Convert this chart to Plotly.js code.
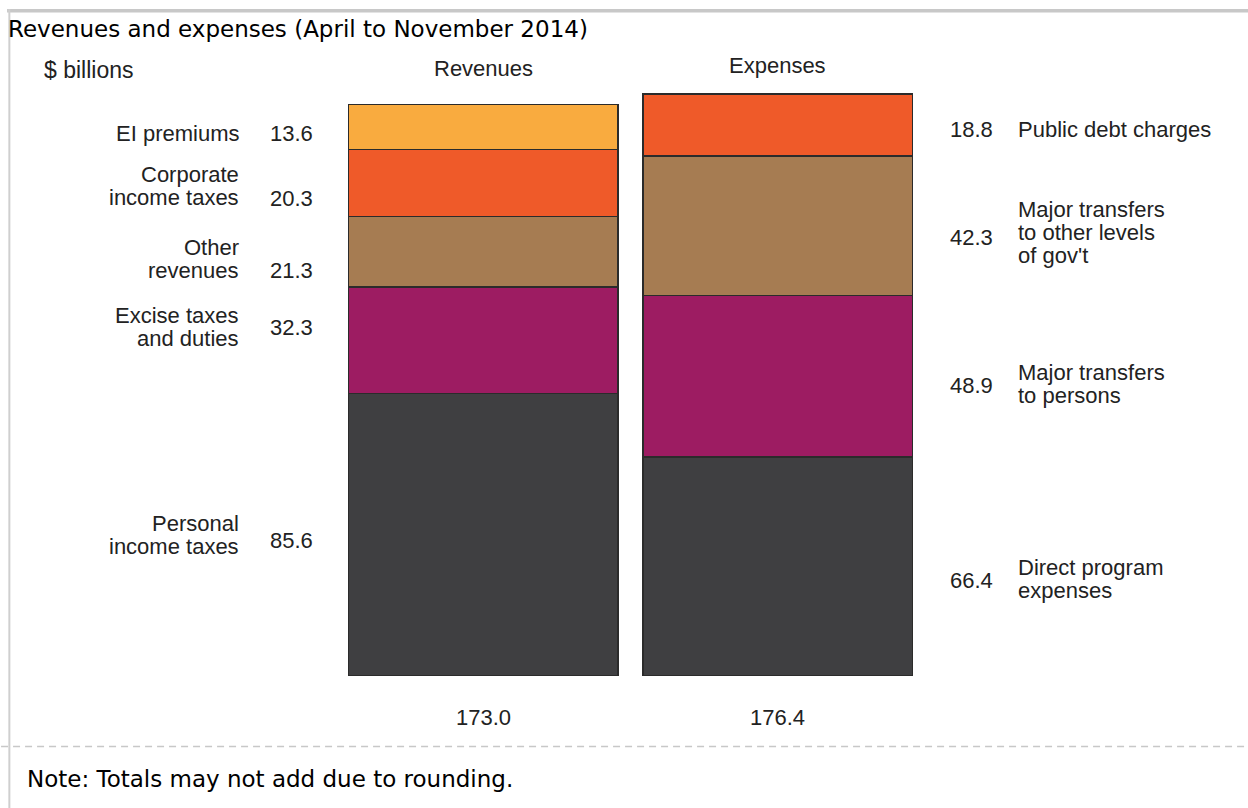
<!DOCTYPE html>
<html>
<head>
<meta charset="utf-8">
<script src="https://cdn.plot.ly/plotly-3.0.1.min.js"></script>
<style>
  html, body { margin: 0; padding: 0; background: #fff; }
  #chart { width: 1248px; height: 808px; }
</style>
</head>
<body>
<div id="chart"></div>
<script>
// ---------------- data ----------------
const categories = ["Revenues", "Expenses"];
// stacked from bottom to top
const revLabels = ["Personal<br>income taxes", "Excise taxes<br>and duties", "Other<br>revenues", "Corporate<br>income taxes", "EI premiums"];
const revValues = [85.6, 32.3, 21.3, 20.3, 13.6];
const expLabels = ["Direct program<br>expenses", "Major transfers<br>to persons", "Major transfers<br>to other levels<br>of gov't", "Public debt charges"];
const expValues = [66.4, 48.9, 42.3, 18.8];
const totals = [173.0, 176.4];
const unitLabel = "$ billions";
const titleText = "Revenues and expenses (April to November 2014)";
const noteText = "Note: Totals may not add due to rounding.";

// ---------------- styles / layout ----------------
const W = 1248, H = 808;
const M = { l: 335.5, r: 322.5, t: 60, b: 132 };
const plotW = W - M.l - M.r, plotH = H - M.t - M.b;
const yMax = plotH / 3.3;
const px = x => (x - M.l) / plotW;           // pixel -> paper x
const py = y => (H - M.b - y) / plotH;       // pixel -> paper y

const revColors = ["#3f3f41", "#9d1c62", "#a67c52", "#ef5a29", "#f9ab3f"];
const expColors = ["#3f3f41", "#9d1c62", "#a67c52", "#ef5a29"];
const revNameShift = [0, -13, 7, 3, 6];
const revValShift = [6, -13, 19, 15, 6];
const expNameShift = [13, 8, 7, 5];
const expValShift = [14, 9, 12, 5];
const lineGap = 23;
const labelFont = { family: "Liberation Sans, Arial, sans-serif", size: 22, color: "#222" };
const headFont = { family: "Liberation Sans, Arial, sans-serif", size: 22, color: "#222" };
const unitFont = { family: "Liberation Sans, Arial, sans-serif", size: 23, color: "#222" };
const htmlFont = { family: "DejaVu Sans, Verdana, sans-serif", size: 23, color: "#000" };

const traces = [];
revValues.forEach((v, i) => traces.push({
  type: "bar", x: [categories[0]], y: [v], name: revLabels[i].replace(/<br>/g, " "),
  marker: { color: revColors[i], line: { color: "#2b2b2b", width: 1.4 } }, hoverinfo: "none"
}));
expValues.forEach((v, i) => traces.push({
  type: "bar", x: [categories[1]], y: [v], name: expLabels[i].replace(/<br>/g, " "),
  marker: { color: expColors[i], line: { color: "#2b2b2b", width: 1.4 } }, hoverinfo: "none"
}));

const annotations = [];
function addSide(labels, values, nameShift, valShift, nameX, nameAnchor, valX) {
  let cum = 0;
  values.forEach((v, i) => {
    const mid = cum + v / 2;
    cum += v;
    const lines = labels[i].split("<br>");
    const n = lines.length;
    lines.forEach((ln, j) => {
      annotations.push({
        xref: "paper", yref: "y", x: px(nameX), y: mid, text: ln, showarrow: false,
        xanchor: nameAnchor, yanchor: "middle", font: labelFont,
        yshift: -(nameShift[i] + (j - (n - 1) / 2) * lineGap)
      });
    });
    annotations.push({
      xref: "paper", yref: "y", x: px(valX), y: mid, text: v.toFixed(1), showarrow: false,
      xanchor: "left", yanchor: "middle", font: labelFont, yshift: -valShift[i]
    });
  });
}
addSide(revLabels, revValues, revNameShift, revValShift, 240, "right", 267);
addSide(expLabels, expValues, expNameShift, expValShift, 1017, "left", 949);

// headings
categories.forEach((c, i) => annotations.push({
  xref: "x", yref: "paper", x: c, y: py(i === 0 ? 68 : 66), text: c, showarrow: false,
  xanchor: "center", yanchor: "middle", font: headFont
}));
// totals
totals.forEach((t, i) => annotations.push({
  xref: "x", yref: "paper", x: categories[i], y: py(717), text: t.toFixed(1), showarrow: false,
  xanchor: "center", yanchor: "middle", font: headFont
}));
// unit label
annotations.push({
  xref: "paper", yref: "paper", x: px(41), y: py(70), text: unitLabel, showarrow: false,
  xanchor: "left", yanchor: "middle", font: unitFont
});
// note
annotations.push({
  xref: "paper", yref: "paper", x: px(24), y: py(779), text: noteText, showarrow: false,
  xanchor: "left", yanchor: "middle", font: htmlFont
});

const shapes = [
  { type: "line", xref: "paper", yref: "paper", x0: px(6), x1: px(1250), y0: py(10.8), y1: py(10.8),
    line: { color: "#c8c8c8", width: 3.5 } },
  { type: "line", xref: "paper", yref: "paper", x0: px(8.3), x1: px(8.3), y0: py(9), y1: py(810),
    line: { color: "#cfcfcf", width: 2 } },
  { type: "line", xref: "paper", yref: "paper", x0: px(0), x1: px(1250), y0: py(746.5), y1: py(746.5),
    line: { color: "#c8c8c8", width: 1.5, dash: "7px,5px" } }
];

const layout = {
  width: W, height: H,
  margin: M,
  paper_bgcolor: "#fff", plot_bgcolor: "#fff",
  barmode: "stack",
  bargap: 25 / 295,
  showlegend: false,
  title: {
    text: titleText, font: htmlFont,
    x: 8 / W, xref: "container", xanchor: "left",
    y: 1 - 29 / H, yref: "container", yanchor: "middle"
  },
  xaxis: { type: "category", range: [-0.5, 1.5], showgrid: false, zeroline: false,
           showticklabels: false, showline: false, ticks: "", fixedrange: true },
  yaxis: { range: [0, yMax], showgrid: false, zeroline: false, showticklabels: false,
           showline: false, ticks: "", fixedrange: true },
  annotations: annotations,
  shapes: shapes
};

Plotly.newPlot("chart", traces, layout, { displayModeBar: false, staticPlot: true });
</script>
</body>
</html>
